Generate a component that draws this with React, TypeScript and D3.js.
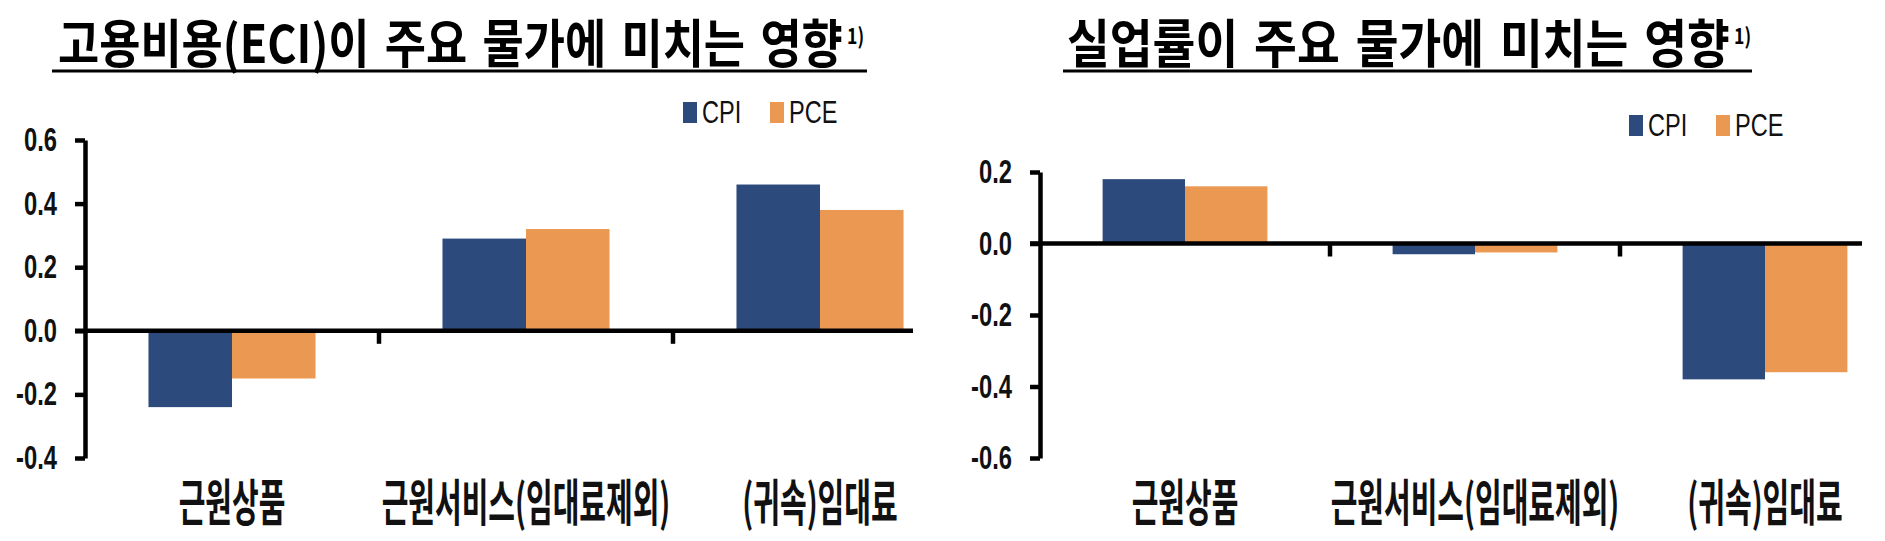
import React, { useEffect, useRef } from 'react';
import { axisLeft, scaleBand, scaleLinear, select } from 'd3';

// categories and series
const categories = ['근원상품', '근원서비스(임대료제외)', '(귀속)임대료'];
const seriesNames = ['CPI', 'PCE'];

// 고용비용(ECI) 영향
const eciCpi = [-0.24, 0.29, 0.46];
const eciPce = [-0.15, 0.32, 0.38];
const eciTicks = [-0.4, -0.2, 0.0, 0.2, 0.4, 0.6];

// 실업률 영향
const unempCpi = [0.18, -0.03, -0.38];
const unempPce = [0.16, -0.025, -0.36];
const unempTicks = [-0.6, -0.4, -0.2, 0.0, 0.2];

const colors = ['#2c4a7c', '#eb9852'];
const KR_FONT = '"Noto Sans CJK KR", "Noto Sans", sans-serif';
const NUM_FONT = '"Liberation Sans", Arial, sans-serif';

const charts = [
  {
    title: '고용비용(ECI)이 주요 물가에 미치는 영향',
    series: [eciCpi, eciPce],
    ticks: eciTicks,
    layout: {
      titleX: 58, titleY: 63, titleLen: 785, lineX0: 52, lineX1: 867,
      legendX: 683, legendY: 102,
      axisX: 85, bandEnd: 967, axisEnd: 913, yTop: 140, yBottom: 458,
    },
  },
  {
    title: '실업률이 주요 물가에 미치는 영향',
    series: [unempCpi, unempPce],
    ticks: unempTicks,
    layout: {
      titleX: 1067, titleY: 63, titleLen: 663, lineX0: 1063, lineX1: 1752,
      legendX: 1629, legendY: 115,
      axisX: 1040, bandEnd: 1910, axisEnd: 1862, yTop: 172, yBottom: 458,
    },
  },
];

const drawChart = (root, { title, series, ticks, layout: l }) => {
  const g = root.append('g');

  // title + underline (squeezed horizontally to the measured width)
  const t = g.append('text')
    .style('font-family', KR_FONT)
    .style('font-weight', 700)
    .style('font-size', '52px')
    .style('word-spacing', '6px')
    .attr('fill', '#000')
    .text(title);
  const natural = t.node().getComputedTextLength() || l.titleLen;
  t.attr('transform', `translate(${l.titleX},${l.titleY}) scale(${l.titleLen / natural},1)`);
  g.append('text')
    .attr('transform', `translate(${l.titleX + l.titleLen + 4},${l.titleY - 19}) scale(0.8,1)`)
    .style('font-family', KR_FONT)
    .style('font-weight', 700)
    .style('font-size', '22px')
    .attr('fill', '#000')
    .text('1)');
  g.append('line')
    .attr('x1', l.lineX0).attr('x2', l.lineX1)
    .attr('y1', 71).attr('y2', 71)
    .attr('stroke', '#000')
    .attr('stroke-width', 3);

  const y = scaleLinear()
    .domain([ticks[0], ticks[ticks.length - 1]])
    .range([l.yBottom, l.yTop]);
  const x = scaleBand()
    .domain(categories)
    .range([l.axisX, l.bandEnd]);
  const xs = scaleBand()
    .domain(seriesNames)
    .range([0, x.bandwidth()])
    .paddingOuter(0.76);

  // bars
  series.forEach((values, i) => {
    g.selectAll(`.bar-${i}`)
      .data(values)
      .enter()
      .append('rect')
      .attr('x', (d, j) => x(categories[j]) + xs(seriesNames[i]))
      .attr('y', (d) => Math.min(y(d), y(0)))
      .attr('width', xs.bandwidth())
      .attr('height', (d) => Math.abs(y(d) - y(0)))
      .attr('fill', colors[i]);
  });

  // y axis
  const scaleX = 0.72;
  const yAxis = g.append('g')
    .attr('transform', `translate(${l.axisX},0)`)
    .call(axisLeft(y)
      .tickValues(ticks)
      .tickSize(10)
      .tickSizeOuter(0)
      .tickFormat((d) => d.toFixed(1)));
  yAxis.select('.domain').attr('stroke', '#000').attr('stroke-width', 4.5);
  yAxis.selectAll('.tick line').attr('stroke', '#000').attr('stroke-width', 4.5);
  yAxis.selectAll('.tick text')
    .attr('x', -28 / scaleX)
    .attr('transform', `scale(${scaleX},1)`)
    .attr('fill', '#111')
    .style('font-family', NUM_FONT)
    .style('font-weight', 700)
    .style('font-size', '33px');

  // zero line and category separators
  g.append('line')
    .attr('x1', l.axisX - 10).attr('x2', l.axisEnd)
    .attr('y1', y(0)).attr('y2', y(0))
    .attr('stroke', '#000')
    .attr('stroke-width', 4.5);
  g.selectAll('.sep')
    .data(categories.slice(1))
    .enter()
    .append('line')
    .attr('x1', (d) => x(d)).attr('x2', (d) => x(d))
    .attr('y1', y(0)).attr('y2', y(0) + 13)
    .attr('stroke', '#000')
    .attr('stroke-width', 4.5);

  // category labels
  g.selectAll('.cat')
    .data(categories)
    .enter()
    .append('text')
    .attr('transform', (d) => `translate(${x(d) + x.bandwidth() / 2},521) scale(0.58,1)`)
    .attr('text-anchor', 'middle')
    .style('font-family', KR_FONT)
    .style('font-weight', 700)
    .style('font-size', '50px')
    .attr('fill', '#111')
    .text((d) => d);

  // legend
  const leg = g.selectAll('.leg')
    .data(seriesNames)
    .enter()
    .append('g')
    .attr('transform', (d, i) => `translate(${l.legendX + i * 87},${l.legendY})`);
  leg.append('rect')
    .attr('width', 14)
    .attr('height', 21)
    .attr('fill', (d, i) => colors[i]);
  leg.append('text')
    .attr('transform', 'translate(19,21) scale(0.76,1)')
    .style('font-family', NUM_FONT)
    .style('font-size', '31px')
    .attr('fill', '#111')
    .text((d) => d);
};

const App = () => {
  const ref = useRef(null);
  useEffect(() => {
    const svg = select(ref.current);
    charts.forEach((c) => drawChart(svg, c));
    return () => { svg.selectAll('*').remove(); };
  }, []);

  return (
    <svg
      ref={ref}
      width={1885}
      height={541}
      style={{ position: 'absolute', left: 0, top: 0, background: '#fff' }}
    />
  );
};

export default App;
